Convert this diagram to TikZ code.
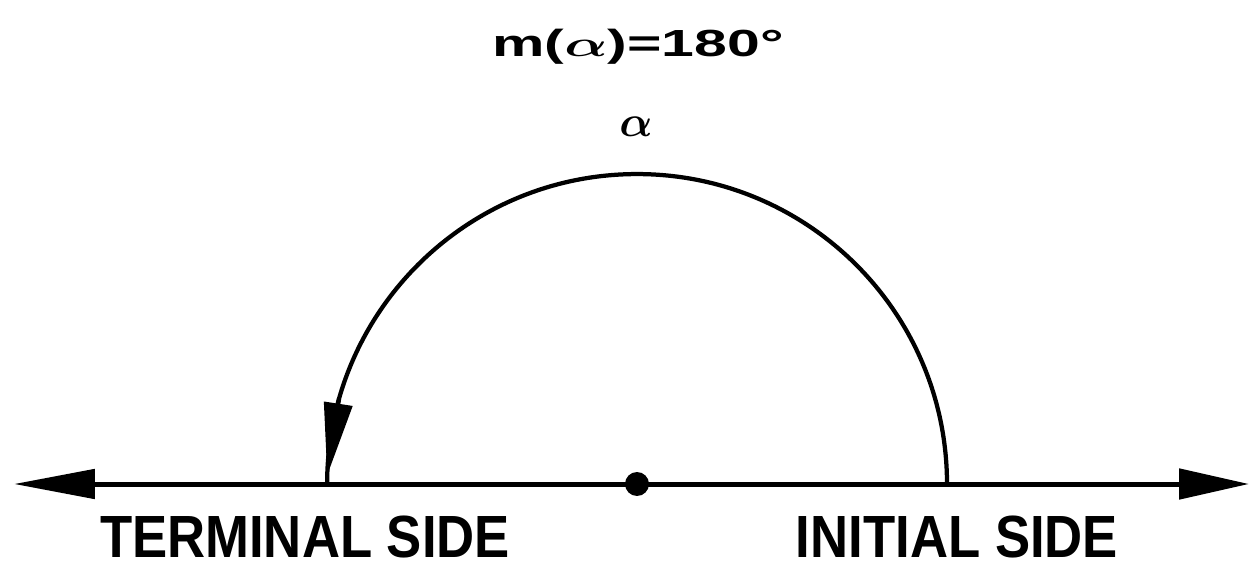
\documentclass[tikz,border=0pt]{standalone}
\usepackage{amsmath}
\usepackage{fontspec}
\setmainfont{Liberation Sans}
\usetikzlibrary{arrows.meta,calc}
\tikzset{
  axisline/.style={line width=0.1cm},
  arcline/.style={line width=0.085cm},
  sidelabel/.style={font=\fontsize{30}{30}\selectfont\bfseries, anchor=base, inner sep=0pt},
  toplabel/.style={font=\fontsize{21.5}{21.5}\selectfont\bfseries, anchor=base, inner sep=0pt},
  alphalabel/.style={font=\fontsize{36}{36}\selectfont, anchor=base, inner sep=0pt},
}
\begin{document}
\begin{tikzpicture}[x=0.02cm,y=0.02cm]
\useasboundingbox (0,0) rectangle (1251,565);
\coordinate (c) at (637,81);
\coordinate (L) at (14,81);
\coordinate (R) at (1249,81);
\coordinate (A0) at (947,81);
\coordinate (H0) at ($(c)+(164:6.2cm)$);
\coordinate (H1) at ($(c)+(178.4:6.2cm)$);
\draw[axisline, {Triangle[length=1.62cm,width=0.58cm]}-{Triangle[length=1.4cm,width=0.6cm]}] (L) -- (R);
\draw[arcline] (A0) arc[start angle=0, end angle=180, radius=6.2cm];
\draw[arcline, -{Triangle[length=1.45cm,width=0.56cm]}] (H0) -- (H1);
\fill (c) circle[radius=0.24cm];
\node[sidelabel] (term) at (305,8) {\scalebox{1}[1.13]{TERMINAL SIDE}};
\node[sidelabel] (init) at (957,8) {\scalebox{1}[1.13]{INITIAL SIDE}};
\node[toplabel] (meas) at (638,508) {\scalebox{1.56}[1]{m($\boldsymbol{\alpha}$)=180°}};
\node[alphalabel] (alpha) at (636,428) {$\boldsymbol{\alpha}$};
\end{tikzpicture}
\end{document}
